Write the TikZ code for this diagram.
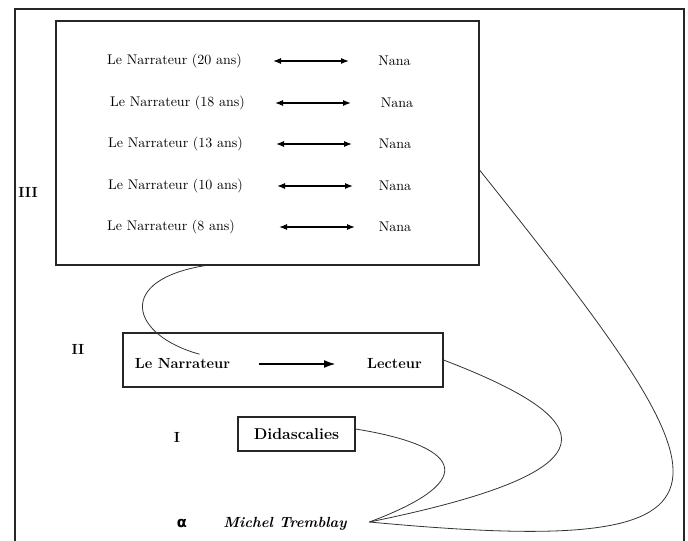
\documentclass[tikz,border=0pt]{standalone}
\usepackage{fontspec}
\newfontfamily\greekfont{DejaVu Sans}
\usetikzlibrary{arrows.meta,calc}

\begin{document}
\begin{tikzpicture}[x=0.75pt,y=-0.75pt,
    frame/.style={draw=black!85, line width=0.8pt},
    level/.style={font=\fontsize{11}{13}\selectfont\bfseries},
    boxtext/.style={font=\fontsize{10.5}{12}\selectfont},
    link/.style={draw=black!80, line width=0.6pt}]
    % Draw the outer frame
    \useasboundingbox (0,0) rectangle (688,541);
    \draw[frame] (15,541) -- (15,9) -- (684,9) -- (684,541);

    % Draw the three boxes
    \node[frame, minimum width=317.25pt, minimum height=183pt] (boxIII) at (267.5,143) {};
    \node[frame, minimum width=240pt, minimum height=40.5pt] (boxII) at (283,360) {};
    \node[frame, level, font=\fontsize{11.8}{13}\selectfont\bfseries, minimum width=87.75pt, minimum height=25.5pt] (didas) at (296.5,434) {Didascalies};

    % Draw the narrator rows inside box III
    \foreach \y/\age/\lx/\ax/\nx in {61/20/174.5/273/394.5, 103/18/177.5/275/397, 144/13/175.5/276/395, 186/10/175.5/277/395, 227/8/171/279/395} {
        \node[boxtext] (narr\age) at (\lx,\y) {Le Narrateur (\age\ ans)};
        \node[boxtext] (nana\age) at (\nx,\y) {Nana};
        \coordinate (a\age) at (\ax,\y);
        \coordinate (b\age) at (\ax+76,\y);
        \draw[{Latex[length=6pt,width=4.5pt]}-{Latex[length=6pt,width=4.5pt]}, line width=0.9pt] (a\age) -- (b\age);
    }

    % Draw the reader line inside box II
    \node[level] (lnarr) at (182.5,364) {Le Narrateur};
    \node[level] (lect) at (394.5,364) {Lecteur};
    \coordinate (c1) at (259,364);
    \coordinate (c2) at (336,364);
    \draw[-{Latex[length=9pt,width=6pt]}, line width=1.6pt] (c1) -- (c2);

    % Draw the level labels
    \node[level] (lIII) at (28,192) {III};
    \node[level] (lII) at (78,349) {II};
    \node[level] (lI) at (177,437) {I};
    \node[font=\fontsize{11}{13}\greekfont\bfseries] (lalpha) at (182,523) {α};
    \node[level, font=\fontsize{11}{13}\selectfont\bfseries\itshape] (michel) at (285,524) {Michel Tremblay};

    % Draw the curves back to the author
    \draw[link] ($(boxIII.south)+(-62,0)$) .. controls (115,280) and (130,335) .. ($(lnarr.north)+(17,0)$);
    \draw[link] (boxII.east) .. controls (600,420) and (625,470) .. ($(michel.east)+(18,-2)$);
    \draw[link] ($(didas.east)+(0,-5)$) .. controls (455,445) and (487,478) .. ($(michel.east)+(18,-2)$);
    \draw[link] ($(boxIII.east)+(0,27)$) .. controls (735,490) and (775,560) .. ($(michel.east)+(18,-2)$);
\end{tikzpicture}
\end{document}
